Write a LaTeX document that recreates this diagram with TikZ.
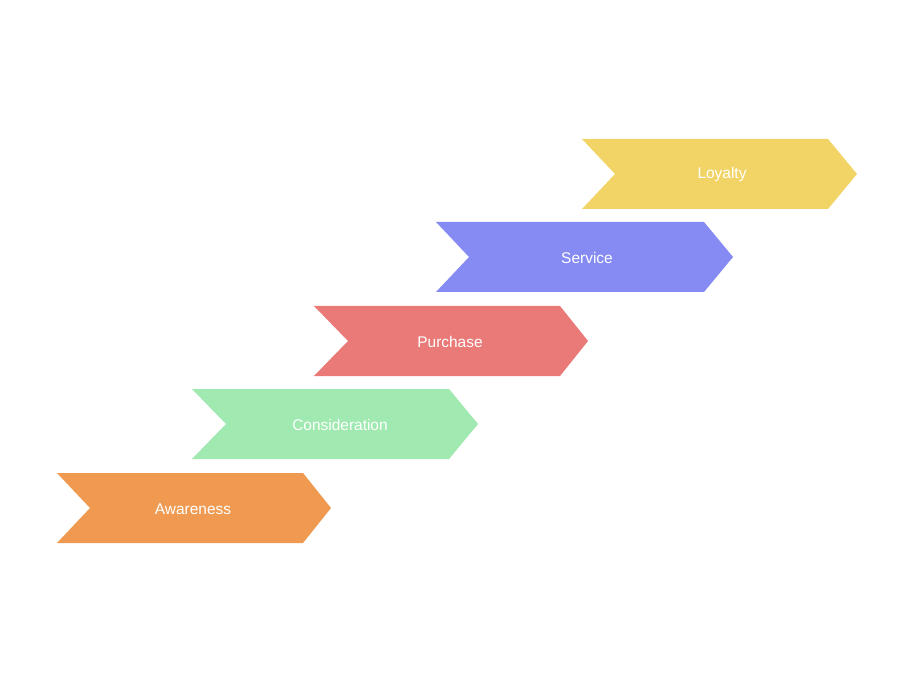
\documentclass[tikz,border=0pt]{standalone}
\usepackage{fontspec}
\setmainfont{Liberation Sans}
\definecolor{awareC}{HTML}{EF9A50}
\definecolor{consC}{HTML}{A0EAB1}
\definecolor{purchC}{HTML}{E97A77}
\definecolor{servC}{HTML}{858BF2}
\definecolor{loyalC}{HTML}{F2D466}
\tikzset{
  stagelabel/.style={text=white,font=\fontsize{11.6}{14}\selectfont,inner sep=0pt}
}
\begin{document}
\begin{tikzpicture}[x=0.75pt,y=-0.75pt]
        % fond
        \fill[white] (0,0) rectangle (914,684);

        % etapes: gauche/creux/droite/pointe/haut/bas/texte x/couleur/nom/texte
        \foreach \lx/\nx/\rx/\px/\ty/\by/\tx/\col/\nm/\txt in {
            57/90/303/331/473/543/193/awareC/aware/Awareness,
            192/226/449/478/389/459/340/consC/cons/Consideration,
            314/348/560/588/306/376/450/purchC/purch/Purchase,
            436/469/704/733/222/292/587/servC/serv/Service,
            582/615/828/857/139/209/722/loyalC/loyal/Loyalty}{
            \fill[\col] (\lx,\ty) -- (\rx,\ty) -- (\px,{(\ty+\by)/2}) -- (\rx,\by)
                -- (\lx,\by) -- (\nx,{(\ty+\by)/2}) -- cycle;
            \node[stagelabel] (\nm) at (\tx,{(\ty+\by)/2+1}) {\txt};
        }
\end{tikzpicture}
\end{document}
